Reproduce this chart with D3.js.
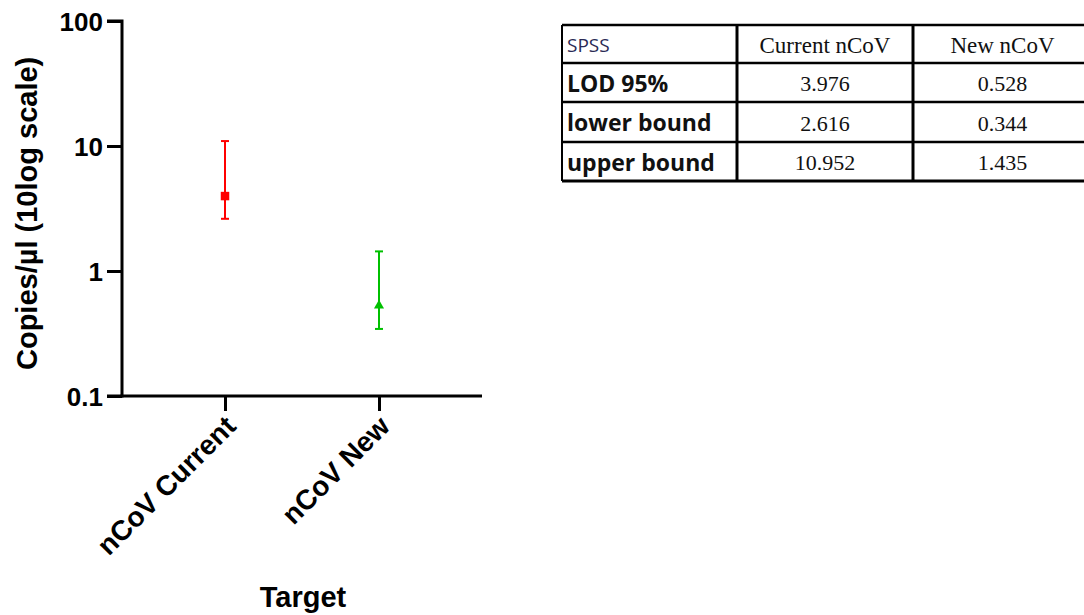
<!DOCTYPE html>
<html>
<head>
<meta charset="utf-8">
<script src="https://cdn.jsdelivr.net/npm/d3@7"></script>
<style>
  html, body { margin: 0; padding: 0; background: #fff; }
  svg { display: block; }
</style>
</head>
<body>
<svg id="chart" width="1084" height="615"></svg>
<script>
// LOD 95% estimates with their confidence bounds (copies/µl)
const targets = ["nCoV Current", "nCoV New"];
const lod = [3.976, 0.528];
const lower = [2.616, 0.344];
const upper = [10.952, 1.435];
const markerColors = ["#ff0000", "#00c000"];
const markerShapes = ["square", "triangle"];
const yTicks = [0.1, 1, 10, 100];

// Summary table rows
const tableHeader = ["SPSS", "Current nCoV", "New nCoV"];
const rowLabels = ["LOD 95%", "lower bound", "upper bound"];
const currentCol = ["3.976", "2.616", "10.952"];
const newCol = ["0.528", "0.344", "1.435"];

const svg = d3.select("#chart");
const axisX0 = 122, axisX1 = 482, axisY0 = 396, axisY1 = 21;

const y = d3.scaleLog().domain([0.1, 100]).range([axisY0, axisY1]);
const x = d3.scalePoint().domain(targets).range([axisX0, axisX1]).padding(0.669);

const font = "'Liberation Sans', Arial, sans-serif";

// Y axis
const yAxis = d3.axisLeft(y).tickValues(yTicks)
  .tickFormat(d => d >= 1 ? d3.format("d")(d) : String(d))
  .tickSize(15).tickPadding(4);
const gy = svg.append("g").attr("transform", `translate(${axisX0},0)`).call(yAxis);
gy.select(".domain").attr("stroke", "#000").attr("stroke-width", 3)
  .attr("d", `M-15,${axisY0}H0V${axisY1}H-15`);
gy.selectAll(".tick line").attr("stroke", "#000").attr("stroke-width", 3);
gy.selectAll(".tick text").attr("font-family", font).attr("font-weight", "bold")
  .attr("font-size", 26).attr("fill", "#000").attr("dy", "0.36em");

// X axis
const xAxis = d3.axisBottom(x).tickSize(15).tickSizeOuter(0);
const gx = svg.append("g").attr("transform", `translate(0,${axisY0})`).call(xAxis);
gx.select(".domain").attr("stroke", "#000").attr("stroke-width", 3)
  .attr("d", `M${axisX0 - 1.5},0H${axisX1}`);
gx.selectAll(".tick line").attr("stroke", "#000").attr("stroke-width", 3);
gx.selectAll(".tick text")
  .attr("font-family", font).attr("font-weight", "bold").attr("font-size", 28)
  .attr("fill", "#000")
  .attr("text-anchor", "end")
  .attr("dy", null).attr("y", 0)
  .attr("transform", "translate(12,32) rotate(-45)");

// Axis titles
svg.append("text")
  .attr("transform", `translate(37,370) rotate(-90)`)
  .attr("text-anchor", "start")
  .attr("font-family", font).attr("font-weight", "bold").attr("font-size", 29)
  .attr("fill", "#000")
  .text("Copies/µl (10log scale)");

svg.append("text")
  .attr("x", 303).attr("y", 607)
  .attr("text-anchor", "middle")
  .attr("font-family", font).attr("font-weight", "bold").attr("font-size", 29)
  .attr("fill", "#000")
  .text("Target");

// Error bars with markers
const data = targets.map((t, i) => ({
  t, v: lod[i], lo: lower[i], hi: upper[i], c: markerColors[i], s: markerShapes[i]
}));
const capW = 4;
const g = svg.append("g");
data.forEach(d => {
  const cx = x(d.t);
  const e = g.append("g").attr("stroke", d.c).attr("stroke-width", 2).attr("fill", "none");
  e.append("line").attr("x1", cx).attr("x2", cx).attr("y1", y(d.hi)).attr("y2", y(d.lo));
  e.append("line").attr("x1", cx - capW).attr("x2", cx + capW).attr("y1", y(d.hi)).attr("y2", y(d.hi));
  e.append("line").attr("x1", cx - capW).attr("x2", cx + capW).attr("y1", y(d.lo)).attr("y2", y(d.lo));
  const sym = d.s === "square" ? d3.symbolSquare : d3.symbolTriangle;
  g.append("path")
    .attr("d", d3.symbol().type(sym).size(d.s === "square" ? 72 : 44)())
    .attr("transform", `translate(${cx},${y(d.v)})`)
    .attr("fill", d.c);
});

// Summary table
const colX = [562, 737, 913, 1092];
const rowY = [25, 63, 102, 142, 181];
const tg = svg.append("g");
const cells = [tableHeader].concat(rowLabels.map((r, i) => [r, currentCol[i], newCol[i]]));

cells.forEach((row, ri) => {
  row.forEach((txt, ci) => {
    const yMid = (rowY[ri] + rowY[ri + 1]) / 2 + 1;
    const t = tg.append("text").attr("fill", "#111").text(txt);
    if (ci === 0) {
      t.attr("x", colX[0] + 5).attr("y", yMid).attr("dy", "0.35em")
        .attr("font-family", "'Open Sans', 'Noto Sans', sans-serif");
      if (ri === 0) t.attr("font-size", 19).attr("fill", "#2a2a55");
      else t.attr("font-size", 23).attr("font-weight", "bold");
    } else {
      t.attr("x", (colX[ci] + colX[ci + 1]) / 2).attr("y", yMid)
        .attr("dy", "0.35em").attr("text-anchor", "middle")
        .attr("font-family", "'Liberation Serif', 'Times New Roman', serif")
        .attr("font-size", ri === 0 ? 23 : 22);
    }
  });
});

// Table rules
rowY.forEach((yy, i) => {
  tg.append("line").attr("x1", colX[0]).attr("x2", 1084)
    .attr("y1", yy).attr("y2", yy)
    .attr("stroke", "#000").attr("stroke-width", i === rowY.length - 1 ? 3 : 2.5);
});
colX.forEach((xx, i) => {
  tg.append("line").attr("x1", xx).attr("x2", xx)
    .attr("y1", rowY[0]).attr("y2", rowY[rowY.length - 1])
    .attr("stroke", "#000").attr("stroke-width", i === 0 ? 2 : 3);
});
</script>
</body>
</html>
